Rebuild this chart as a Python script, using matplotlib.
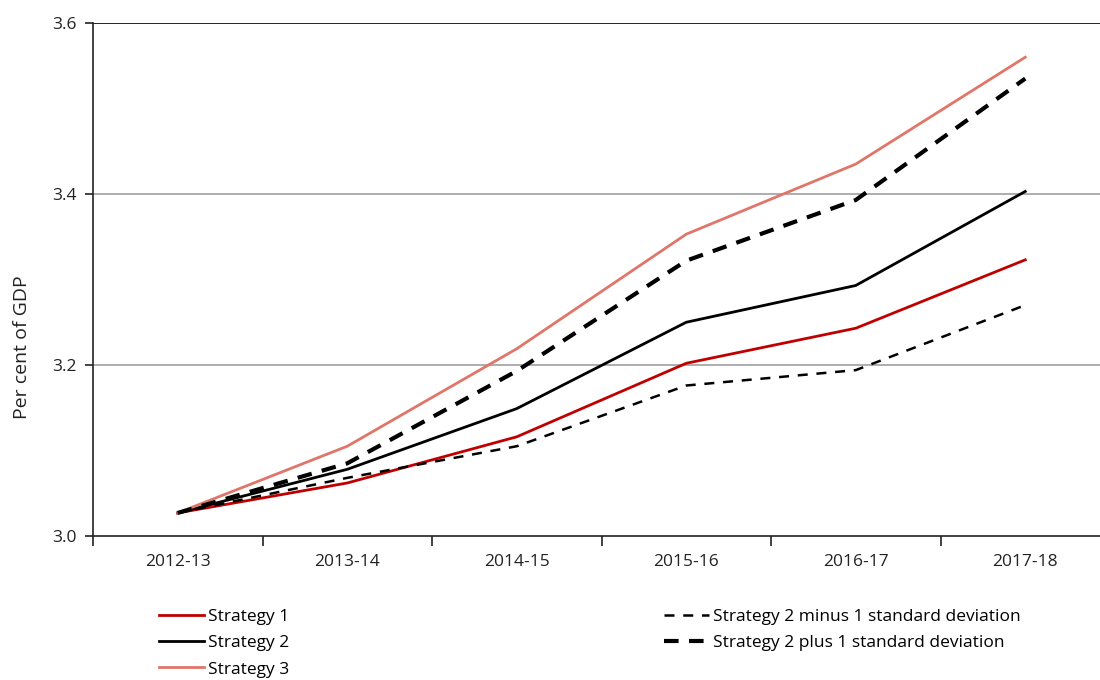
import numpy as np
import matplotlib.pyplot as plt

plt.rcParams['font.family'] = ['Open Sans', 'DejaVu Sans']

years = ["2012-13", "2013-14", "2014-15", "2015-16", "2016-17", "2017-18"]
strategy1 = [3.027, 3.062, 3.116, 3.202, 3.243, 3.323]
strategy2 = [3.027, 3.078, 3.149, 3.250, 3.293, 3.403]
strategy3 = [3.027, 3.105, 3.219, 3.353, 3.435, 3.560]
minus_sd = [3.027, 3.068, 3.105, 3.176, 3.194, 3.270]
plus_sd = [3.027, 3.085, 3.193, 3.322, 3.393, 3.535]

red = "#C00000"
salmon = "#E0766A"

fig = plt.figure(figsize=(11, 6.8), dpi=100)
ax = fig.add_axes([93 / 1100, 1 - 536 / 680, 1017 / 1100, 513 / 680])

x = np.arange(len(years))
ax.plot(x, strategy1, color=red, lw=2, label="Strategy 1")
ax.plot(x, strategy2, color="black", lw=2, label="Strategy 2")
ax.plot(x, strategy3, color=salmon, lw=2, label="Strategy 3")
ax.plot(x, minus_sd, color="black", lw=1.8, ls=(0, (4, 3.5)),
        label="Strategy 2 minus 1 standard deviation")
ax.plot(x, plus_sd, color="black", lw=3, ls=(0, (3.5, 2.5)),
        label="Strategy 2 plus 1 standard deviation")

ax.set_xlim(-0.5, len(years) - 0.5)
ax.set_ylim(3.0, 3.6)
ax.set_yticks([3.0, 3.2, 3.4, 3.6])
ax.set_yticklabels(["3.0", "3.2", "3.4", "3.6"])
ax.set_xticks(x)
ax.set_xticklabels(years)
ax.set_xticks(np.arange(-0.5, len(years), 1), minor=True)
ax.tick_params(axis="x", which="major", length=0, pad=13, labelsize=12.5, colors="#222222")
ax.tick_params(axis="x", which="minor", length=7, width=1.2, color="#222222")
ax.tick_params(axis="y", length=6, width=1.2, labelsize=12.5, pad=6, colors="#222222")

for v in [3.2, 3.4]:
    ax.axhline(v, color="#A0A0A0", lw=1.2, zorder=0)
ax.axhline(3.6, color="black", lw=1.2, zorder=0)

for s in ["top", "right"]:
    ax.spines[s].set_visible(False)
for s in ["left", "bottom"]:
    ax.spines[s].set_linewidth(1.2)
    ax.spines[s].set_color("#222222")

fig.text(22 / 1100, 1 - 347 / 680, "Per cent of GDP", rotation=90,
         va="center", ha="center", fontsize=14, color="#222222")

h, l = ax.get_legend_handles_labels()
opts = dict(loc="upper left", frameon=False, fontsize=12.5, handlelength=2.6,
            handletextpad=0.2, labelspacing=0.58, borderaxespad=0)
fig.legend(h[:3], l[:3], bbox_to_anchor=(152 / 1100, 1 - 602 / 680), **opts)
fig.legend(h[3:], l[3:], bbox_to_anchor=(657 / 1100, 1 - 602 / 680), **opts)

fig.savefig("out.png", dpi=100)
